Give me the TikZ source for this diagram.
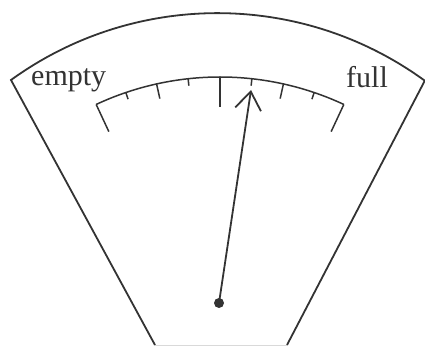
\documentclass[tikz,border=0pt]{standalone}
\usepackage{fontspec}
\setmainfont{Liberation Serif}
\usetikzlibrary{arrows.meta,calc}
\definecolor{ink}{HTML}{333333}
\begin{document}
\begin{tikzpicture}[x=1pt,y=1pt,
  gline/.style={draw=ink,line width=1.8pt,line join=miter},
  tickmark/.style={draw=ink,line width=1.5pt},
  lbl/.style={text=ink,font=\fontsize{30}{31}\selectfont,inner sep=0pt,anchor=base west},
  dot/.style={circle,fill=ink,inner sep=0pt,minimum size=10pt}]
\useasboundingbox (0,0) rectangle (425,345);
% outer housing
\coordinate (bl) at (155,0);
\coordinate (br) at (287,0);
\draw[gline] (bl) -- (11,265) arc[start angle=125.9,end angle=53.9,radius=352] -- (br);
\draw[gray!30,line width=0.6pt] (bl) -- (br);
% scale
\coordinate (sc) at (220,-25);
\draw[tickmark] ($(sc)+(115:293)$) arc[start angle=115,end angle=65,radius=293];
\foreach \k/\len in {-4/30,-3/7,-2/15,-1/7,0/30,1/7,2/15,3/7,4/30}{
  \draw[tickmark] ($(sc)+({90-\k*6.25}:293)$) -- ($(sc)+({90-\k*6.25}:{293-\len})$);
}
% labels
\node[lbl] (empty) at (31,259) {empty};
\node[lbl] (full) at (346,257) {full};
% needle
\coordinate (pivot) at (219,42);
\coordinate (tip) at (251,255);
\draw[draw=ink,line width=1.8pt,-{Straight Barb[length=18pt,width=26pt,line width=1.8pt]}] (pivot) -- (tip);
\node[dot] (hub) at (pivot) {};
\end{tikzpicture}
\end{document}
